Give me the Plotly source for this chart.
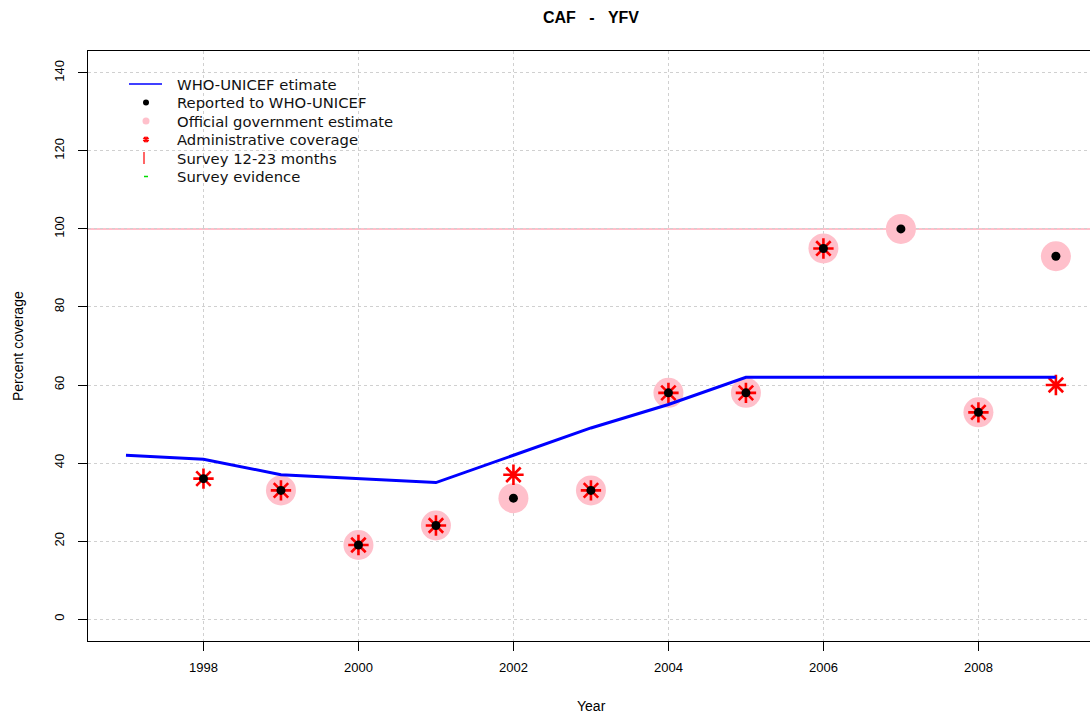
import plotly.graph_objects as go

years_est = [1997, 1998, 1999, 2000, 2001, 2002, 2003, 2004, 2005, 2006, 2007, 2008, 2009]
who_unicef = [42, 41, 37, 36, 35, 42, 49, 55, 62, 62, 62, 62, 62]

years_rep = [1998, 1999, 2000, 2001, 2002, 2003, 2004, 2005, 2006, 2007, 2008, 2009]
reported = [36, 33, 19, 24, 31, 33, 58, 58, 95, 100, 53, 93]

years_off = [1999, 2000, 2001, 2002, 2003, 2004, 2005, 2006, 2007, 2008, 2009]
official = [33, 19, 24, 31, 33, 58, 58, 95, 100, 53, 93]

years_adm = [1998, 1999, 2000, 2001, 2002, 2003, 2004, 2005, 2006, 2008, 2009]
admin = [36, 33, 19, 24, 37, 33, 58, 58, 95, 53, 60]

x_ticks = [1998, 2000, 2002, 2004, 2006, 2008]
y_ticks = [0, 20, 40, 60, 80, 100, 120, 140]

legend_labels = ["WHO-UNICEF etimate", "Reported to WHO-UNICEF", "Official government estimate",
                 "Administrative coverage", "Survey 12-23 months", "Survey evidence"]

FONT = "Liberation Sans, Arial"
LEGFONT = "DejaVu Sans, Liberation Sans"

W, H = 1090, 717
ML, MT, MR = 88, 51, 0
MB = H - 641
plot_w = W - ML - MR
plot_h = H - MT - MB


def px(xw):
    return (xw - ML) / plot_w


def py(yw):
    return (641 - yw) / plot_h


fig = go.Figure()

fig.add_trace(go.Scatter(x=years_off, y=official, mode="markers",
                         marker=dict(color="#FFC0CB", size=30), showlegend=False, hoverinfo="skip"))
fig.add_trace(go.Scatter(x=years_adm, y=admin, mode="markers",
                         marker=dict(symbol="asterisk-open", size=17, color="#FF0000",
                                     line=dict(color="#FF0000", width=2.6)),
                         showlegend=False, hoverinfo="skip"))
fig.add_trace(go.Scatter(x=years_rep, y=reported, mode="markers",
                         marker=dict(color="black", size=9), showlegend=False, hoverinfo="skip"))
fig.add_trace(go.Scatter(x=years_est, y=who_unicef, mode="lines",
                         line=dict(color="#0000FF", width=3), showlegend=False, hoverinfo="skip"))

fig.add_shape(type="line", xref="paper", x0=0, x1=1, yref="y", y0=100, y1=100,
              line=dict(color="#FFC0CB", width=2), layer="between")

# manual legend (keys + labels)
row_y = [84, 102.5, 121, 139.5, 158, 176.5]
key_x = 146
text_x = 175
for lab, ry in zip(legend_labels, row_y):
    fig.add_annotation(text=lab, xref="paper", yref="paper", x=px(text_x), y=py(ry),
                       xanchor="left", yanchor="middle", showarrow=False,
                       font=dict(family=LEGFONT, size=14.8, color="#111"))

fig.add_shape(type="line", xref="paper", yref="paper", x0=px(129), x1=px(162),
              y0=py(row_y[0]), y1=py(row_y[0]), line=dict(color="#0000FF", width=1.5))
fig.add_shape(type="circle", xref="paper", yref="paper", xsizemode="pixel", ysizemode="pixel",
              xanchor=px(key_x), yanchor=py(row_y[1]), x0=-3, x1=3, y0=-3, y1=3,
              fillcolor="black", line=dict(width=0))
fig.add_shape(type="circle", xref="paper", yref="paper", xsizemode="pixel", ysizemode="pixel",
              xanchor=px(key_x), yanchor=py(row_y[2]), x0=-3.5, x1=3.5, y0=-3.5, y1=3.5,
              fillcolor="#FFC0CB", line=dict(width=0))
fig.add_shape(type="path", xref="paper", yref="paper", xsizemode="pixel", ysizemode="pixel",
              xanchor=px(key_x), yanchor=py(row_y[3]),
              path="M0,-3 L0,3 M-3,1 L3,-1 M-3,-1 L3,1 M-2,2.5 L2,-2.5 M-2,-2.5 L2,2.5",
              line=dict(color="#FF0000", width=1.3))
fig.add_shape(type="line", xref="paper", yref="paper", ysizemode="pixel",
              x0=px(144), x1=px(144), yanchor=py(row_y[4]), y0=-6, y1=6,
              line=dict(color="#FF3333", width=1.5))
fig.add_shape(type="line", xref="paper", yref="paper", xsizemode="pixel",
              xanchor=px(key_x), x0=-2, x1=2, y0=py(row_y[5]), y1=py(row_y[5]),
              line=dict(color="#00DD00", width=1.5))

fig.add_annotation(text="Percent coverage", xref="paper", yref="paper",
                   x=px(18), y=0.5, textangle=-90, showarrow=False,
                   xanchor="center", yanchor="middle", font=dict(family=FONT, size=14, color="black"))
fig.add_annotation(text="Year", xref="paper", yref="paper",
                   x=px(591), y=py(706), showarrow=False,
                   xanchor="center", yanchor="middle", font=dict(family=FONT, size=14, color="black"))

fig.update_layout(
    width=W, height=H,
    margin=dict(l=ML, r=MR, t=MT, b=MB, autoexpand=False),
    paper_bgcolor="white", plot_bgcolor="white",
    title=dict(text="<b>CAF\u00a0\u00a0\u00a0-\u00a0\u00a0\u00a0YFV</b>", x=px(591),
               xref="paper", xanchor="center",
               y=1 - 17 / H, yref="container", yanchor="middle",
               font=dict(family=FONT, size=16, color="black")),
    showlegend=False,
)

fig.update_xaxes(range=[1996.51, 2009.44], tickvals=x_ticks, ticks="outside", ticklen=9,
                 tickcolor="black", showline=True, linecolor="black", linewidth=1, mirror=True,
                 showgrid=True, gridcolor="#d0d0d0", griddash="dot", gridwidth=1, zeroline=False,
                 ticklabelstandoff=5, automargin=False,
                 tickfont=dict(family=FONT, size=13, color="black"))
fig.update_yaxes(range=[-5.6, 145.6], tickvals=y_ticks, ticks="outside", ticklen=9, tickangle=-90,
                 tickcolor="black", showline=True, linecolor="black", linewidth=1, mirror=False,
                 showgrid=True, gridcolor="#d0d0d0", griddash="dot", gridwidth=1, zeroline=False,
                 ticklabelstandoff=9, automargin=False,
                 tickfont=dict(family=FONT, size=13, color="black"))

# remove the page's default body margin so the figure sits at the window origin
fig.write_html("out.html",
               config={"displayModeBar": False},
               post_script="document.body.style.margin='0';"
                           "document.body.style.overflow='hidden';"
                           "document.documentElement.style.overflow='hidden';")
